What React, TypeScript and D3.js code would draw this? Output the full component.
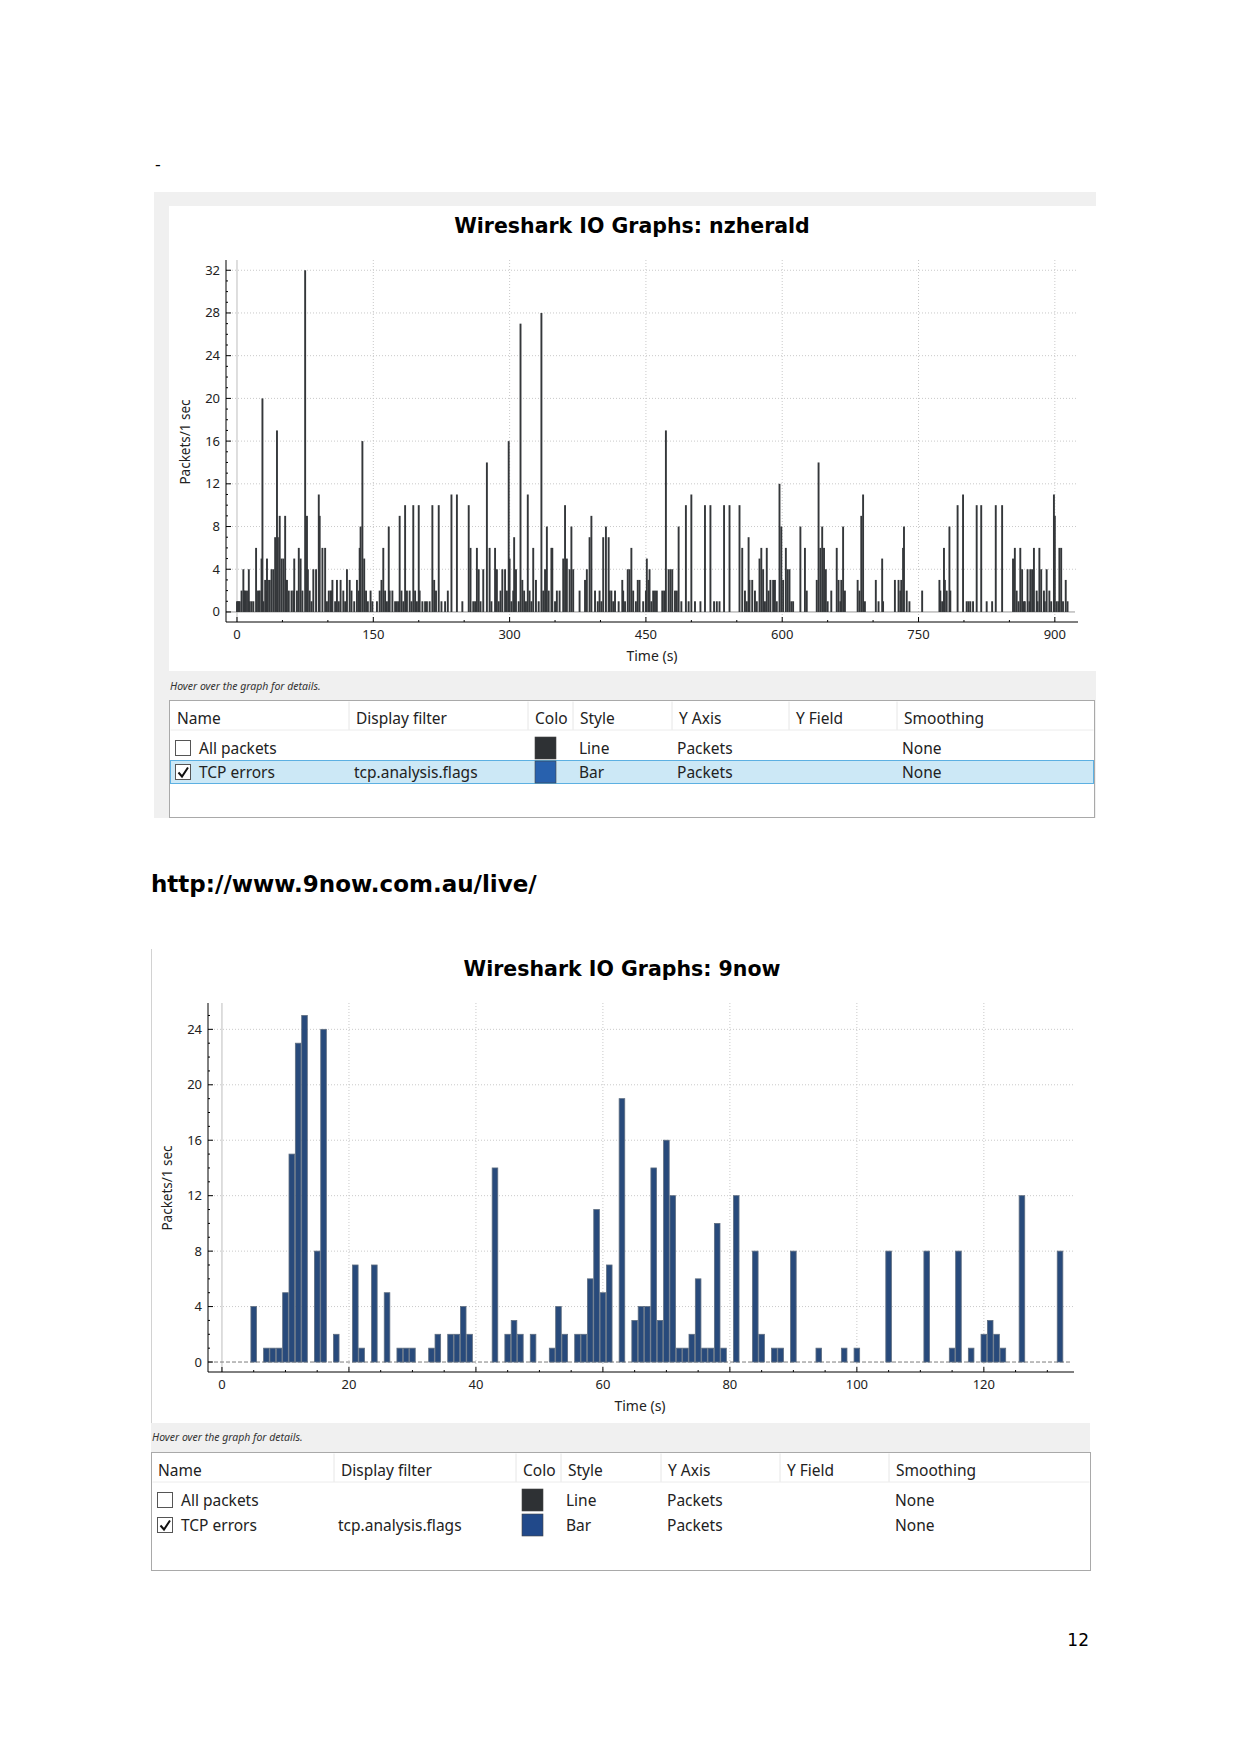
import React from "react";
import * as d3 from "d3";

// nzherald capture, TCP errors per 1 s bin: [time (s), packets]
const NZHERALD_BINS: [number, number][] = [
  [0, 1], [1, 1], [2, 1], [3, 1], [5, 2], [7, 4], [8, 2], [9, 2], [11, 2], [13, 4], [14, 1], [16, 1], [18, 1],
  [21, 6], [22, 2], [24, 2], [25, 2], [27, 5], [28, 20], [29, 1], [31, 3], [32, 2], [33, 5], [34, 3], [36, 3],
  [38, 4], [40, 4], [42, 7], [44, 17], [45, 7], [47, 9], [49, 5], [51, 5], [53, 9], [54, 3], [55, 3], [57, 2],
  [60, 2], [62, 2], [63, 5], [66, 2], [68, 6], [70, 5], [72, 2], [75, 32], [77, 9], [78, 4], [80, 2], [82, 1],
  [84, 4], [87, 4], [90, 11], [91, 9], [94, 6], [97, 6], [99, 1], [101, 2], [103, 2], [104, 2], [105, 3],
  [108, 1], [110, 3], [112, 1], [114, 3], [117, 2], [119, 1], [121, 4], [124, 3], [126, 2], [129, 1], [132, 3],
  [134, 2], [135, 6], [136, 8], [138, 16], [140, 5], [142, 2], [144, 1], [147, 2], [149, 1], [154, 1], [157, 2],
  [159, 3], [161, 6], [163, 2], [165, 1], [167, 8], [168, 2], [171, 2], [174, 1], [176, 1], [178, 1], [179, 9],
  [181, 2], [183, 1], [185, 10], [187, 2], [190, 2], [192, 1], [194, 10], [196, 2], [198, 1], [200, 10],
  [201, 2], [204, 1], [207, 1], [209, 1], [212, 1], [215, 10], [217, 3], [219, 2], [222, 10], [225, 1],
  [229, 1], [232, 2], [236, 11], [242, 11], [248, 1], [255, 10], [257, 6], [260, 1], [262, 1], [264, 6],
  [266, 4], [268, 1], [271, 4], [275, 14], [278, 6], [280, 1], [284, 6], [286, 4], [288, 1], [290, 2],
  [292, 4], [295, 4], [297, 2], [299, 16], [300, 5], [302, 1], [304, 2], [305, 7], [307, 4], [310, 1],
  [312, 27], [314, 3], [316, 2], [318, 1], [320, 11], [322, 2], [324, 1], [326, 6], [329, 3], [332, 1],
  [335, 28], [337, 2], [339, 4], [341, 8], [343, 2], [346, 6], [347, 6], [350, 1], [352, 2], [355, 2],
  [359, 5], [361, 10], [363, 5], [366, 4], [368, 8], [370, 4], [377, 2], [383, 3], [385, 4], [388, 7],
  [390, 9], [394, 2], [397, 1], [399, 2], [401, 1], [403, 7], [406, 8], [409, 7], [410, 2], [412, 2],
  [414, 1], [416, 2], [420, 1], [424, 3], [425, 2], [427, 1], [430, 4], [432, 4], [434, 6], [436, 2],
  [439, 1], [441, 3], [443, 3], [447, 1], [450, 2], [451, 5], [453, 3], [454, 4], [456, 1], [458, 2],
  [460, 2], [462, 2], [468, 2], [470, 2], [472, 17], [475, 4], [477, 4], [479, 4], [482, 2], [484, 2],
  [486, 8], [489, 1], [494, 10], [497, 1], [500, 11], [504, 1], [510, 1], [515, 10], [521, 10], [525, 1],
  [528, 1], [531, 1], [536, 10], [542, 10], [553, 10], [556, 6], [559, 2], [561, 1], [563, 7], [564, 3],
  [567, 3], [570, 2], [572, 1], [575, 5], [577, 6], [579, 4], [581, 1], [583, 6], [585, 2], [587, 3],
  [590, 3], [592, 3], [594, 1], [597, 12], [599, 8], [601, 3], [604, 6], [606, 4], [608, 4], [610, 1],
  [612, 1], [620, 8], [625, 6], [627, 2], [638, 3], [640, 14], [642, 6], [644, 8], [646, 6], [648, 4],
  [650, 1], [654, 2], [660, 6], [662, 3], [664, 1], [665, 3], [667, 8], [669, 2], [683, 3], [685, 2],
  [687, 9], [689, 11], [691, 1], [703, 3], [706, 1], [710, 5], [711, 1], [724, 3], [728, 3], [730, 2],
  [731, 3], [733, 6], [734, 8], [737, 2], [740, 1], [754, 2], [773, 3], [774, 2], [776, 1], [778, 6],
  [779, 3], [781, 2], [784, 8], [785, 2], [793, 10], [799, 11], [803, 1], [805, 1], [807, 1], [810, 1],
  [814, 10], [819, 10], [825, 1], [831, 1], [835, 10], [842, 10], [854, 5], [856, 6], [858, 2], [860, 1],
  [862, 6], [864, 4], [866, 1], [867, 1], [870, 4], [872, 1], [873, 4], [875, 4], [877, 6], [880, 2],
  [881, 1], [883, 6], [885, 4], [888, 2], [889, 1], [891, 4], [894, 2], [896, 1], [899, 11], [900, 9],
  [902, 1], [904, 1], [905, 6], [907, 6], [909, 1], [912, 3], [914, 1],
];

// 9now capture, TCP errors per 1 s bin: [time (s), packets]
const NOW_BINS: [number, number][] = [
  [5, 4], [7, 1], [8, 1], [9, 1], [10, 5], [11, 15], [12, 23], [13, 25], [15, 8], [16, 24], [18, 2], [21, 7],
  [22, 1], [24, 7], [26, 5], [28, 1], [29, 1], [30, 1], [33, 1], [34, 2], [36, 2], [37, 2], [38, 4], [39, 2],
  [43, 14], [45, 2], [46, 3], [47, 2], [49, 2], [52, 1], [53, 4], [54, 2], [56, 2], [57, 2], [58, 6], [59, 11],
  [60, 5], [61, 7], [63, 19], [65, 3], [66, 4], [67, 4], [68, 14], [69, 3], [70, 16], [71, 12], [72, 1],
  [73, 1], [74, 2], [75, 6], [76, 1], [77, 1], [78, 10], [79, 1], [81, 12], [84, 8], [85, 2], [87, 1], [88, 1],
  [90, 8], [94, 1], [98, 1], [100, 1], [105, 8], [111, 8], [115, 1], [116, 8], [118, 1], [120, 2], [121, 3],
  [122, 2], [123, 1], [126, 12], [132, 8],
];

const NZ_X_TICKS = [0, 150, 300, 450, 600, 750, 900];
const NZ_Y_TICKS = [0, 4, 8, 12, 16, 20, 24, 28, 32];
const NOW_X_TICKS = [0, 20, 40, 60, 80, 100, 120];
const NOW_Y_TICKS = [0, 4, 8, 12, 16, 20, 24];

const TABLE_COLUMNS = ["Name", "Display filter", "Colo", "Style", "Y Axis", "Y Field", "Smoothing"];
const GRAPH_ROWS = [
  { name: "All packets", filter: "", style: "Line", yAxis: "Packets", smoothing: "None", checked: false },
  { name: "TCP errors", filter: "tcp.analysis.flags", style: "Bar", yAxis: "Packets", smoothing: "None", checked: true },
];

const UI = "'Noto Sans', 'Open Sans', sans-serif";
const BOLD = "'DejaVu Sans', Verdana, sans-serif";

type GraphCfg = {
  title: string; titleX: number; titleY: number;
  bins: [number, number][];
  xDomain: [number, number]; yDomain: [number, number];
  left: number; right: number; top: number; bottom: number;
  xTicks: number[]; yTicks: number[]; xSubStep: number;
  barWidth: number; barFill: string; barStroke: string; barStrokeWidth: number;
  zeroColor: string; zeroDash?: string;
  yLabelX: number; yLabelY: number; xLabelX: number; xLabelY: number;
};

function IOGraph({ c }: { c: GraphCfg }) {
  const x = d3.scaleLinear().domain(c.xDomain).range([c.left, c.right]);
  const y = d3.scaleLinear().domain(c.yDomain).range([c.bottom, c.top]);
  const xSub = d3.range(0, c.xDomain[1], c.xSubStep).filter((v) => !c.xTicks.includes(v));
  const ySub = d3.range(0, c.yDomain[1], 1).filter((v) => !c.yTicks.includes(v));
  const y0 = y(0);
  const grid = "#c9c9c9";

  return (
    <g>
      <text x={c.titleX} y={c.titleY} textAnchor="middle" fontFamily={BOLD} fontWeight="bold" fontSize={20.5} fill="#000">
        {c.title}
      </text>

      {/* grid */}
      {c.xTicks.filter((t) => t !== 0).map((t) => (
        <line key={`gx${t}`} x1={x(t)} x2={x(t)} y1={c.top} y2={c.bottom} stroke={grid} strokeDasharray="1 2" />
      ))}
      {c.yTicks.filter((t) => t !== 0).map((t) => (
        <line key={`gy${t}`} x1={c.left} x2={c.right} y1={y(t)} y2={y(t)} stroke={grid} strokeDasharray="1 2" />
      ))}
      <line x1={x(0)} x2={x(0)} y1={c.top} y2={c.bottom} stroke="#bdbdbd" />
      <line x1={c.left} x2={c.right - 3} y1={y0} y2={y0} stroke={c.zeroColor} strokeDasharray={c.zeroDash} />

      {/* bars */}
      {c.bins.map(([t, v]) => (
        <rect
          key={`b${t}`}
          x={x(t) - c.barWidth / 2}
          y={y(v)}
          width={c.barWidth}
          height={y0 - y(v)}
          fill={c.barFill}
          stroke={c.barStroke}
          strokeWidth={c.barStrokeWidth}
        />
      ))}

      {/* axes */}
      <line x1={c.left} x2={c.left} y1={c.top} y2={c.bottom} stroke="#000" />
      <line x1={c.left} x2={c.right} y1={c.bottom} y2={c.bottom} stroke="#000" />
      {c.xTicks.map((t) => (
        <g key={`xt${t}`}>
          <line x1={x(t)} x2={x(t)} y1={c.bottom} y2={c.bottom - 5} stroke="#000" />
          <text x={x(t)} y={c.bottom + 17} textAnchor="middle" fontFamily={UI} fontSize={13} fill="#222">{t}</text>
        </g>
      ))}
      {xSub.map((t) => (
        <line key={`xs${t}`} x1={x(t)} x2={x(t)} y1={c.bottom} y2={c.bottom - 2} stroke="#000" />
      ))}
      {c.yTicks.map((t) => (
        <g key={`yt${t}`}>
          <line x1={c.left} x2={c.left + 5} y1={y(t)} y2={y(t)} stroke="#000" />
          <text x={c.left - 6} y={y(t) + 4.5} textAnchor="end" fontFamily={UI} fontSize={13} fill="#222">{t}</text>
        </g>
      ))}
      {ySub.map((t) => (
        <line key={`ys${t}`} x1={c.left} x2={c.left + 2} y1={y(t)} y2={y(t)} stroke="#000" />
      ))}

      <text
        transform={`translate(${c.yLabelX},${c.yLabelY}) rotate(-90)`}
        textAnchor="middle"
        dominantBaseline="central"
        fontFamily={UI}
        fontSize={13.5}
        fill="#222"
      >
        Packets/1 sec
      </text>
      <text x={c.xLabelX} y={c.xLabelY} textAnchor="middle" fontFamily={UI} fontSize={14} fill="#222">Time (s)</text>
    </g>
  );
}

type TableCfg = {
  hoverX: number; hoverY: number;
  left: number; right: number; top: number; bottom: number;
  headY: number; rowY: number[];
  colX: number[]; cellX: number[];
  boxX: number; swatchX: number; swatchColors: string[];
  selected: boolean;
};

function GraphTable({ t }: { t: TableCfg }) {
  const [nameX, filterX, , styleX, yAxisX, , smoothX] = t.cellX;
  return (
    <g fontFamily={UI}>
      <text x={t.hoverX} y={t.hoverY} fontSize={10.5} fontStyle="italic" fill="#333">Hover over the graph for details.</text>
      <rect x={t.left} y={t.top} width={t.right - t.left} height={t.bottom - t.top} fill="#fff" stroke="#a9a9a9" />
      {t.colX.slice(1).map((cx, i) => (
        <line key={`sep${i}`} x1={cx - 7} x2={cx - 7} y1={t.top + 1} y2={t.headY + 12} stroke="#e6e6e6" />
      ))}
      <line x1={t.left + 1} x2={t.right - 1} y1={t.headY + 12} y2={t.headY + 12} stroke="#ececec" />
      {TABLE_COLUMNS.map((h, i) => (
        <text key={h} x={t.colX[i]} y={t.headY + 5.5} fontSize={15.5} fill="#222">{h}</text>
      ))}
      {t.selected && (
        <rect x={t.left + 1} y={t.rowY[1] - 11.5} width={t.right - t.left - 2} height={23} fill="#cce8f6" stroke="#5cb0e2" />
      )}
      {GRAPH_ROWS.map((r, i) => {
        const cy = t.rowY[i];
        return (
          <g key={r.name}>
            <rect x={t.boxX} y={cy - 7.5} width={15} height={15} fill="#fff" stroke="#555" />
            {r.checked && (
              <path
                d={`M${t.boxX + 3},${cy + 0.5} L${t.boxX + 6.5},${cy + 4.5} L${t.boxX + 12.5},${cy - 4.5}`}
                fill="none"
                stroke="#111"
                strokeWidth={2}
              />
            )}
            <rect x={t.swatchX} y={cy - 11} width={21} height={22} fill={t.swatchColors[i]} stroke="#444" strokeWidth={0.6} />
            <text x={nameX} y={cy + 5.5} fontSize={15.5} fill="#222">{r.name}</text>
            <text x={filterX} y={cy + 5.5} fontSize={15.5} fill="#222">{r.filter}</text>
            <text x={styleX} y={cy + 5.5} fontSize={15.5} fill="#222">{r.style}</text>
            <text x={yAxisX} y={cy + 5.5} fontSize={15.5} fill="#222">{r.yAxis}</text>
            <text x={smoothX} y={cy + 5.5} fontSize={15.5} fill="#222">{r.smoothing}</text>
          </g>
        );
      })}
    </g>
  );
}

const NZ_GRAPH: GraphCfg = {
  title: "Wireshark IO Graphs: nzherald", titleX: 632, titleY: 233,
  bins: NZHERALD_BINS,
  xDomain: [-12.1, 925.5], yDomain: [-0.94, 32.96],
  left: 226, right: 1078, top: 260, bottom: 622,
  xTicks: NZ_X_TICKS, yTicks: NZ_Y_TICKS, xSubStep: 50,
  barWidth: 1.9, barFill: "#34373a", barStroke: "none", barStrokeWidth: 0,
  zeroColor: "#9a9a9a",
  yLabelX: 185, yLabelY: 442, xLabelX: 652, xLabelY: 661,
};

const NOW_GRAPH: GraphCfg = {
  title: "Wireshark IO Graphs: 9now", titleX: 622, titleY: 976,
  bins: NOW_BINS,
  xDomain: [-2.2, 134.2], yDomain: [-0.72, 25.9],
  left: 208, right: 1074, top: 1003, bottom: 1372,
  xTicks: NOW_X_TICKS, yTicks: NOW_Y_TICKS, xSubStep: 5,
  barWidth: 5.6, barFill: "#284a7b", barStroke: "#5f6e80", barStrokeWidth: 0.8,
  zeroColor: "#7d7d7d", zeroDash: "4 2",
  yLabelX: 167, yLabelY: 1188, xLabelX: 640, xLabelY: 1411,
};

const NZ_TABLE: TableCfg = {
  hoverX: 170, hoverY: 690,
  left: 169.5, right: 1094.5, top: 700.5, bottom: 817.5,
  headY: 718, rowY: [748, 772],
  colX: [177, 356, 535, 580, 679, 796, 904],
  cellX: [199, 354, 535, 579, 677, 796, 902],
  boxX: 175.5, swatchX: 535, swatchColors: ["#2e3134", "#2861ae"],
  selected: true,
};

const NOW_TABLE: TableCfg = {
  hoverX: 152, hoverY: 1441,
  left: 151.5, right: 1090.5, top: 1452.5, bottom: 1570.5,
  headY: 1470, rowY: [1500, 1525],
  colX: [158, 341, 523, 568, 668, 787, 896],
  cellX: [181, 338, 523, 566, 667, 787, 895],
  boxX: 157.5, swatchX: 522, swatchColors: ["#2e3134", "#21498a"],
  selected: false,
};

export default function App() {
  return (
    <svg
      width={1241}
      height={1754}
      viewBox="0 0 1241 1754"
      style={{ position: "absolute", left: 0, top: 0, background: "#fff" }}
    >
      <rect width={1241} height={1754} fill="#fff" />
      <text x={155} y={170} fontFamily={BOLD} fontSize={16} fill="#000">-</text>

      {/* nzherald window */}
      <rect x={154} y={192} width={942} height={626} fill="#f0f0f0" />
      <rect x={169} y={206} width={927} height={465} fill="#fff" />
      <IOGraph c={NZ_GRAPH} />
      <GraphTable t={NZ_TABLE} />

      <text x={151} y={892} fontFamily={BOLD} fontWeight="bold" fontSize={23} fill="#000">
        http://www.9now.com.au/live/
      </text>

      {/* 9now window */}
      <line x1={151.5} x2={151.5} y1={949} y2={1452} stroke="#d2d2d2" />
      <rect x={151} y={1423} width={939} height={29} fill="#f0f0f0" />
      <IOGraph c={NOW_GRAPH} />
      <GraphTable t={NOW_TABLE} />

      <text x={1089} y={1646} textAnchor="end" fontFamily={BOLD} fontSize={17} fill="#000">12</text>
    </svg>
  );
}
